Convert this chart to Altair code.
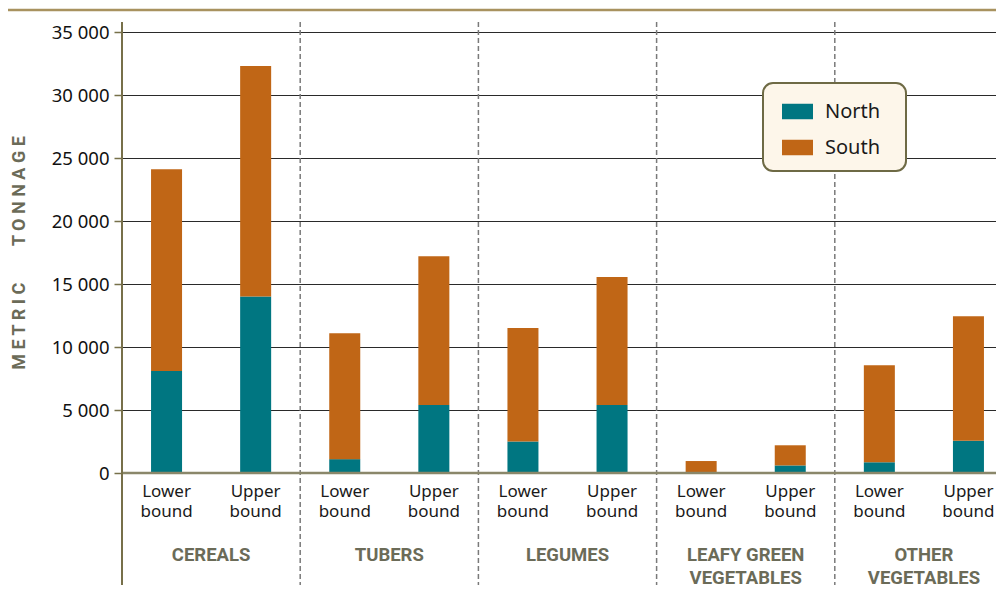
import altair as alt
import pandas as pd

# ---- data ----
groups = ["Cereals", "Tubers", "Legumes", "Leafy green vegetables", "Other vegetables"]
group_labels = ["CEREALS", "TUBERS", "LEGUMES", "LEAFY GREEN\nVEGETABLES", "OTHER\nVEGETABLES"]
bounds = ["Lower bound", "Upper bound"]
bound_labels = ["Lower\nbound", "Upper\nbound"]
regions = ["North", "South"]

north_lower = [8100, 1100, 2500, 0, 850]
south_lower = [16000, 10000, 9000, 950, 7700]
north_upper = [14000, 5400, 5400, 600, 2550]
south_upper = [18300, 11800, 10150, 1600, 9900]

rows = []
for i, g in enumerate(groups):
    for b, n, s in [("Lower bound", north_lower[i], south_lower[i]),
                    ("Upper bound", north_upper[i], south_upper[i])]:
        rows.append(dict(group=g, bound=b, region="North", value=n))
        rows.append(dict(group=g, bound=b, region="South", value=s))
df = pd.DataFrame(rows)

lab_rows = []
for g in groups:
    for b, bl in zip(bounds, bound_labels):
        lab_rows.append(dict(group=g, bound=b, label=bl))
df_lab = pd.DataFrame(lab_rows)
df_glab = pd.DataFrame(dict(group=groups, glabel=group_labels))
df_sep = pd.DataFrame(dict(group=groups[1:]))
df_one = pd.DataFrame(dict(a=[0]))

# ---- styling ----
W, H, XR = 874, 441, 891
TEAL, ORANGE = "#007681", "#c06616"
OLIVE = "#77704a"
GREYTXT = "#6b6b58"
LEGBG = "#fdf6ea"

xscale = alt.Scale(domain=groups, range=[0, XR], paddingInner=0, paddingOuter=0)
x = alt.X("group:N", scale=xscale, axis=None)
xoff = alt.XOffset("bound:N", scale=alt.Scale(domain=bounds, paddingInner=0.652, paddingOuter=0.326))

yaxis = alt.Axis(
    values=list(range(0, 35001, 5000)),
    labelExpr="replace(format(datum.value, ','), ',', ' ')",
    domain=False, tickColor=OLIVE, tickSize=8, tickWidth=1.5,
    labelFont="Noto Sans", labelFontSize=18.5, labelColor="#111111", labelPadding=5,
    gridColor="#2a2a2a", gridWidth=1.2,
    titleFont="Roboto", titleFontSize=18, titleFontWeight="bold", titleColor=GREYTXT,
    titleX=-98, titleBaseline="alphabetic", titleAngle=270,
)

bars = alt.Chart(df).mark_bar().encode(
    x=x,
    xOffset=xoff,
    y=alt.Y("value:Q", stack="zero",
            scale=alt.Scale(domain=[0, 35000], nice=False),
            axis=yaxis,
            title="M E T R I C\u2003\u2003T O N N A G E"),
    color=alt.Color("region:N",
                    scale=alt.Scale(domain=regions, range=[TEAL, ORANGE]),
                    legend=alt.Legend(
                        title="M", titleColor=LEGBG, titleOrient="right",
                        titleFontSize=13, titlePadding=2,
                        orient="none", legendX=641, legendY=51,
                        symbolType="M-1,-0.5H1V0.5H-1Z", symbolSize=961,
                        symbolStrokeWidth=0, symbolOffset=6,
                        labelFont="Noto Sans", labelFontSize=20, labelColor="#1a1a1a",
                        labelOffset=12,
                        fillColor=LEGBG, strokeColor="#6e6a45", cornerRadius=10,
                        padding=13, rowPadding=10)),
    order=alt.Order("region:N"),
)

sep = alt.Chart(df_sep).mark_rule(color="#7a7a7a", strokeWidth=1.5, strokeDash=[5, 3]).encode(
    x=alt.X("group:N", scale=xscale, bandPosition=0, axis=None),
    y=alt.value(-10), y2=alt.value(H + 112),
)

axis_line = alt.Chart(df_one).mark_rule(color=OLIVE, strokeWidth=2).encode(
    x=alt.value(0), y=alt.value(-10), y2=alt.value(H + 112),
)

top_line = alt.Chart(df_one).mark_rule(color="#a8925f", strokeWidth=2.5).encode(
    x=alt.value(-114), x2=alt.value(W), y=alt.value(-22),
)

baseline = alt.Chart(df_one).mark_rule(color="#8a876a", strokeWidth=2.5).encode(
    x=alt.value(0), x2=alt.value(W), y=alt.datum(0),
)

bound_text = alt.Chart(df_lab).mark_text(
    lineBreak="\n", baseline="alphabetic", align="center",
    font="Noto Sans", fontSize=17, color="#1a1a1a", lineHeight=20,
).encode(x=x, xOffset=xoff, y=alt.value(H + 24), text="label:N")

group_text = alt.Chart(df_glab).mark_text(
    lineBreak="\n", baseline="alphabetic", align="center",
    font="Roboto", fontSize=18.5, fontWeight="bold", color=GREYTXT, lineHeight=22.5,
).encode(x=x, y=alt.value(H + 88), text="glabel:N")

chart = alt.layer(sep, bars, baseline, axis_line, top_line, bound_text, group_text).properties(
    width=W, height=H,
    autosize=alt.AutoSizeParams(type="none"),
    padding={"left": 114, "top": 24, "right": 0, "bottom": 112},
).configure_view(stroke=None).configure_legend(strokeWidth=2)

chart.save("out.html", embed_options={"renderer": "svg", "actions": False})
